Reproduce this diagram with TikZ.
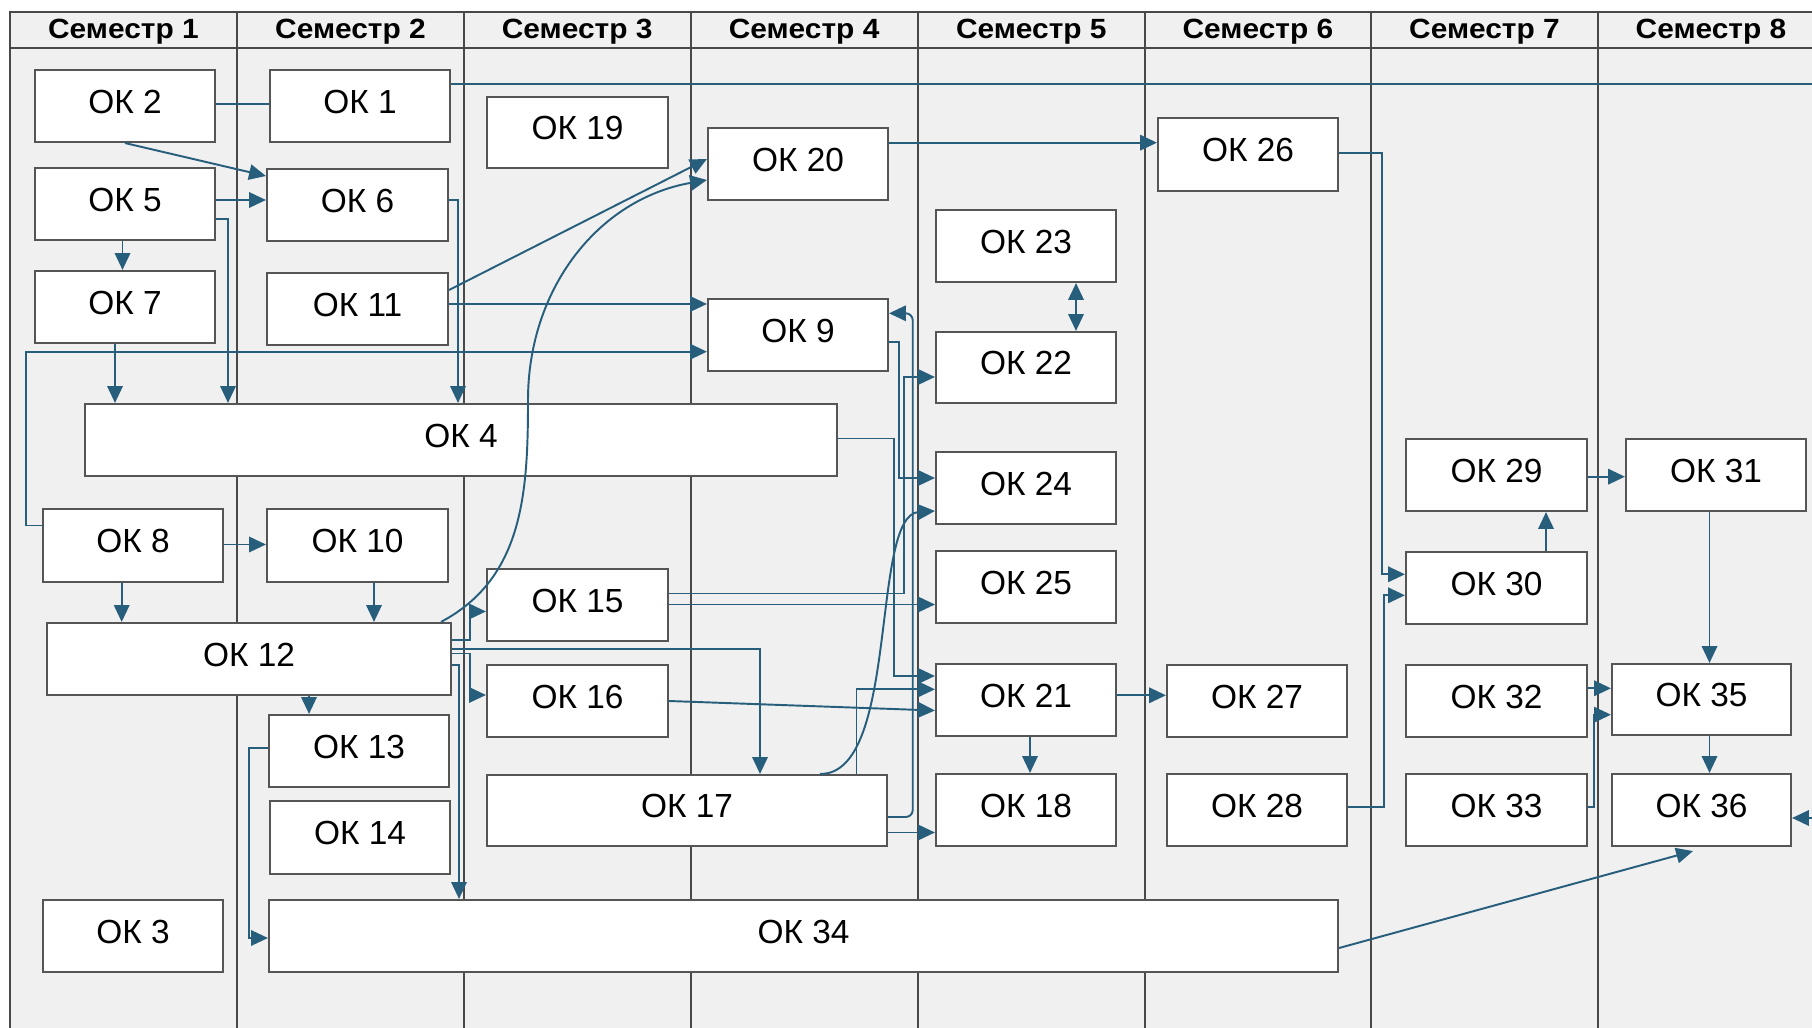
\documentclass[tikz,border=0pt]{standalone}
\usepackage{fontspec}
\setmainfont{Liberation Sans}
\usetikzlibrary{arrows.meta}
\definecolor{connc}{RGB}{38,94,124}
\definecolor{bggray}{RGB}{240,240,240}
\definecolor{divc}{RGB}{72,72,72}
\definecolor{boxc}{RGB}{85,85,85}
\newcommand\mkbox[5]{\node[box, minimum width=(#4-#2)*0.01cm, minimum height=(#5-#3)*0.01cm] (ok#1) at ({(#2+#4)/2},{(#3+#5)/2}) {ОК #1};}
\newcommand\hdrtext[1]{\scalebox{1}[0.93]{#1}}
\begin{document}
\begin{tikzpicture}[x=0.01cm,y=-0.01cm,
  box/.style={draw=boxc, fill=white, line width=0.6pt, inner sep=0pt,
    font=\fontsize{9.5}{11}\selectfont, text height=7pt, text depth=3pt},
  conn/.style={draw=connc, line width=0.55pt},
  arr/.style={conn, -{Triangle[length=4.8pt,width=4.4pt]}},
  darr/.style={conn, {Triangle[length=4.8pt,width=4.4pt]}-{Triangle[length=4.8pt,width=4.4pt]}},
  hdr/.style={font=\bfseries\fontsize{8.5}{10}\selectfont, inner sep=0pt, anchor=base},
  divl/.style={draw=divc, line width=0.55pt}]
\useasboundingbox (0,0) rectangle (1812,1028);
\fill[white] (0,0) rectangle (1812,1028);
\fill[bggray] (9.6,11.7) rectangle (1812,1028);
% frame and dividers
\draw[divl] (1812,11.7) -- (9.6,11.7) -- (9.6,1028);
\draw[divl] (9.6,48.3) -- (1812,48.3);
\foreach \xx in {237.2,463.8,690.6,917.6,1145,1370.8,1598.1}
  \draw[divl] (\xx,11.7) -- (\xx,1028);
% headers
\node[hdr] (h1) at (123.4,39) {\hdrtext{Семестр 1}};
\node[hdr] (h2) at (350.5,39) {\hdrtext{Семестр 2}};
\node[hdr] (h3) at (577.2,39) {\hdrtext{Семестр 3}};
\node[hdr] (h4) at (804.1,39) {\hdrtext{Семестр 4}};
\node[hdr] (h5) at (1031.3,39) {\hdrtext{Семестр 5}};
\node[hdr] (h6) at (1257.9,39) {\hdrtext{Семестр 6}};
\node[hdr] (h7) at (1484.5,39) {\hdrtext{Семестр 7}};
\node[hdr] (h8) at (1711,39) {\hdrtext{Семестр 8}};
% boxes
\mkbox{2}{35}{70}{215}{142}
\mkbox{5}{35}{168}{215}{240}
\mkbox{7}{35}{271}{215}{343}
\mkbox{8}{43}{509}{223}{582}
\mkbox{3}{43}{900}{223}{972}
\mkbox{12}{47}{623}{451}{695}
\mkbox{4}{85}{404}{837}{476}
\mkbox{1}{270}{70}{450}{142}
\mkbox{6}{267}{169}{448}{241}
\mkbox{11}{267}{273}{448}{345}
\mkbox{10}{267}{509}{448}{582}
\mkbox{13}{269}{715}{449}{787}
\mkbox{14}{270}{801}{450}{874}
\mkbox{34}{269}{900}{1338}{972}
\mkbox{19}{487}{97}{668}{168}
\mkbox{15}{487}{569}{668}{641}
\mkbox{16}{487}{665}{668}{737}
\mkbox{17}{487}{775}{887}{846}
\mkbox{20}{708}{128}{888}{200}
\mkbox{9}{708}{299}{888}{371}
\mkbox{23}{936}{210}{1116}{282}
\mkbox{22}{936}{332}{1116}{403}
\mkbox{24}{936}{452}{1116}{524}
\mkbox{25}{936}{551}{1116}{623}
\mkbox{21}{936}{664}{1116}{736}
\mkbox{18}{936}{774}{1116}{846}
\mkbox{26}{1158}{118}{1338}{191}
\mkbox{27}{1167}{665}{1347}{737}
\mkbox{28}{1167}{774}{1347}{846}
\mkbox{29}{1406}{439}{1587}{511}
\mkbox{30}{1406}{552}{1587}{624}
\mkbox{32}{1406}{665}{1587}{737}
\mkbox{33}{1406}{774}{1587}{846}
\mkbox{31}{1626}{439}{1806}{511}
\mkbox{35}{1612}{664}{1791}{735}
\mkbox{36}{1612}{774}{1791}{846}
% free ends
\coordinate (rt1) at (1812,84);
\coordinate (rt2) at (1812,818);
% connectors
\draw[conn] (ok2.east |- 0,104) -- (ok1.west |- 0,104);
\draw[conn] (ok1.east |- 0,84) -- (rt1);
\draw[arr] (ok2.south) -- (ok6.west |- 0,176);
\draw[arr] (ok5.east |- 0,200) -- (ok6.west |- 0,200);
\draw[arr] (ok5.east |- 0,219) -| (ok4.north -| 228,0);
\draw[arr] (ok5.south -| 122.5,0) -- (ok7.north -| 122.5,0);
\draw[arr] (ok7.south -| 115,0) -- (ok4.north -| 115,0);
\draw[arr] (ok6.east |- 0,200) -| (ok4.north -| 458,0);
\draw[arr] (ok11.east |- 0,290) -- (ok20.west |- 0,159);
\draw[arr] (ok11.east |- 0,304) -- (ok9.west |- 0,304);
\draw[arr] (ok8.west |- 0,525.5) -- ++(-16,0) |- (ok9.west |- 0,351.7);
\draw[arr] (ok8.east |- 0,544.5) -- (ok10.west |- 0,544.5);
\draw[arr] (ok8.south -| 121.7,0) -- (ok12.north -| 121.7,0);
\draw[arr] (ok10.south -| 374,0) -- (ok12.north -| 374,0);
\draw[arr] (ok12.north east -| 441,0) to[out=28,in=-90] (528,400) to[out=90,in=190] (ok20.west |- 0,180);
\draw[arr] (ok12.east |- 0,640) -- ++(18,0) |- (ok15.west |- 0,611.5);
\draw[arr] (ok12.east |- 0,649) -| (ok17.north -| 760,0);
\draw[arr] (ok12.east |- 0,653.5) -- ++(18,0) |- (ok16.west |- 0,695);
\draw[arr] (ok12.east |- 0,665) -| (ok34.north -| 459,0);
\draw[arr] (ok12.south -| 309,0) -- (ok13.north -| 309,0);
\draw[arr] (ok13.west |- 0,748) -- ++(-18.5,0) |- (ok34.west |- 0,938);
\draw[arr] (ok20.east |- 0,142.7) -- (ok26.west |- 0,142.7);
\draw[arr] (ok26.east |- 0,153.3) -- ++(43,0) |- (ok30.west |- 0,574.3);
\draw[darr] (ok23.south -| 1076,0) -- (ok22.north -| 1076,0);
\draw[arr] (ok9.east |- 0,342.3) -- ++(9.5,0) |- (ok24.west |- 0,478);
\draw[arr] (ok4.east |- 0,438.5) -- ++(55.5,0) |- (ok21.west |- 0,676);
\draw[arr] (ok15.east |- 0,593.5) -- ++(234.5,0) |- (ok22.west |- 0,377);
\draw[arr] (ok15.east |- 0,604.5) -- (ok25.west |- 0,604.5);
\draw[arr] (ok16.east |- 0,701) -- (ok21.west |- 0,710.5);
\draw[arr] (ok17.north -| 856.5,0) |- (ok21.west |- 0,689.3);
\draw[arr] (ok17.north -| 820,0) .. controls (900,775) and (870,515) .. (ok24.west |- 0,511);
\draw[arr, rounded corners=2pt] (ok17.east |- 0,817) -- ++(24.7,0) |- (ok9.east |- 0,313.3);
\draw[arr] (ok17.east |- 0,832.5) -- (ok18.west |- 0,832.5);
\draw[arr] (ok21.south -| 1030,0) -- (ok18.north -| 1030,0);
\draw[arr] (ok21.east |- 0,695.3) -- (ok27.west |- 0,695.3);
\draw[arr] (ok28.east |- 0,807) -- ++(36,0) |- (ok30.west |- 0,595.3);
\draw[arr] (ok30.north -| 1546,0) -- (ok29.south -| 1546,0);
\draw[arr] (ok29.east |- 0,476.7) -- (ok31.west |- 0,476.7);
\draw[arr] (ok31.south -| 1709.5,0) -- (ok35.north -| 1709.5,0);
\draw[arr] (ok32.east |- 0,688.3) -- (ok35.west |- 0,688.3);
\draw[arr] (ok33.east |- 0,806.6) -- ++(6,0) |- (ok35.west |- 0,714.7);
\draw[arr] (ok35.south -| 1709.5,0) -- (ok36.north -| 1709.5,0);
\draw[arr] (rt2) -- (ok36.east |- 0,818);
\draw[arr] (ok34.east |- 0,948) -- ([yshift=-0.04cm]ok36.south -| 1693,0);
\end{tikzpicture}
\end{document}
